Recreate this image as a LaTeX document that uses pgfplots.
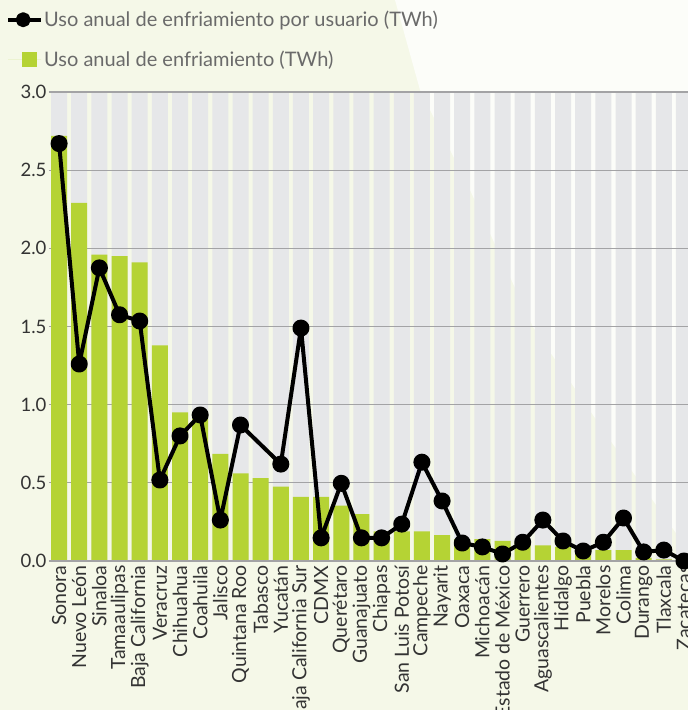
\documentclass[border=0pt]{standalone}
\usepackage{fontspec}
\setmainfont{Lato}
\usepackage{pgfplots}
\pgfplotsset{compat=1.18}
\definecolor{cream}{HTML}{F5F8E8}
\definecolor{whitish}{HTML}{FCFDF9}
\definecolor{barg}{HTML}{B5D334}
\definecolor{bgbar}{HTML}{E6E7E9}
\definecolor{gridc}{HTML}{A3A3A5}
\definecolor{txtd}{HTML}{333333}
\definecolor{txtl}{HTML}{6A6A6A}
\begin{document}
\begin{tikzpicture}[x=1pt,y=1pt]
\fill[cream] (0,0) rectangle (688,710);
\fill[whitish] (395,710) -- (420,620) -- (470,520) -- (533,383) -- (610,270) -- (688,160) -- (688,710) -- cycle;
\begin{axis}[
  anchor=south west, at={(49pt,149pt)},
  scale only axis, width=639pt, height=469pt,
  xmin=-0.5, xmax=31.2, ymin=0, ymax=3.0,
  ytick={0,0.5,1.0,1.5,2.0,2.5,3.0},
  /pgf/number format/fixed, /pgf/number format/fixed zerofill, /pgf/number format/precision=1,
  /pgf/number format/assume math mode=true,
  yticklabel style={font=\fontsize{18.5}{20}\selectfont, text=txtd, xshift=1pt},
  xtick={0,...,31},
  xticklabels={Sonora, Nuevo León, Sinaloa, Tamaaulipas, Baja California, Veracruz, Chihuahua, Coahuila, Jalisco, Quintana Roo, Tabasco, Yucatán, Baja California Sur, CDMX, Querétaro, Guanajuato, Chiapas, San Luis Potosí, Campeche, Nayarit, Oaxaca, Michoacán, Estado de México, Guerrero, Aguascalientes, Hidalgo, Puebla, Morelos, Colima, Durango, Tlaxcala, Zacatecas},
  xticklabel style={rotate=90, anchor=east, font=\fontsize{19.5}{21}\selectfont, text=txtd, xshift=-1pt},
  major tick length=0pt,
  axis line style={draw=none},
  clip=false,
  legend style={at={(axis description cs:0,1)}, anchor=north west, xshift=-43pt, yshift=82pt,
    draw=none, fill=none, inner sep=0pt, row sep=21pt,
    nodes={inner sep=1pt, text=txtl, font=\fontsize{20}{23}\selectfont}},
  legend cell align=left,
  reverse legend,
]
\addplot[ybar, bar width=16pt, bar shift=0pt, fill=bgbar, draw=none, forget plot] coordinates {
(0,3)(1,3)(2,3)(3,3)(4,3)(5,3)(6,3)(7,3)(8,3)(9,3)(10,3)(11,3)(12,3)(13,3)(14,3)(15,3)
(16,3)(17,3)(18,3)(19,3)(20,3)(21,3)(22,3)(23,3)(24,3)(25,3)(26,3)(27,3)(28,3)(29,3)(30,3)(31,3)};
% horizontal grid lines
\addplot[gridc, line width=1.3pt, forget plot] coordinates {(-0.5,0.5)(31.2,0.5)};
\addplot[gridc, line width=1.3pt, forget plot] coordinates {(-0.5,1.0)(31.2,1.0)};
\addplot[gridc, line width=1.3pt, forget plot] coordinates {(-0.5,1.5)(31.2,1.5)};
\addplot[gridc, line width=1.3pt, forget plot] coordinates {(-0.5,2.0)(31.2,2.0)};
\addplot[gridc, line width=1.3pt, forget plot] coordinates {(-0.5,2.5)(31.2,2.5)};
\addplot[gridc, line width=1.3pt, forget plot] coordinates {(-0.5,3.0)(31.2,3.0)};
\addplot[ybar, bar width=16pt, bar shift=0pt, fill=barg, draw=none,
  legend image code/.code={\path (0pt,0pt) -- (33pt,0pt); \fill[barg] (14pt,-7.5pt) rectangle (29pt,7.5pt);}] coordinates {
(0,2.72)(1,2.29)(2,1.96)(3,1.95)(4,1.91)(5,1.38)(6,0.95)(7,0.91)(8,0.685)(9,0.56)(10,0.53)(11,0.475)
(12,0.41)(13,0.41)(14,0.355)(15,0.30)(16,0.19)(17,0.19)(18,0.19)(19,0.165)(20,0.14)(21,0.14)
(22,0.128)(23,0.12)(24,0.10)(25,0.09)(26,0.07)(27,0.07)(28,0.07)(29,0.02)(30,0.01)(31,0.003)};
\addlegendentry{Uso anual de enfriamiento (TWh)}
\addplot[gridc, line width=1.3pt, forget plot] coordinates {(-0.5,0)(31.2,0)};
\addplot[black, line width=4pt, line join=round, mark=*, mark size=6.5pt, mark options={fill=black},
  legend image code/.code={\draw[black, line width=4pt] (0pt,0pt) -- (33pt,0pt); \fill[black] (15pt,0pt) circle (5.5pt);}] coordinates {
(0,2.67)(1,1.26)(2,1.875)(3,1.575)(4,1.535)(5,0.518)(6,0.80)(7,0.934)(8,0.262)(9,0.87)
(11,0.62)(12,1.49)(13,0.148)(14,0.497)(15,0.148)(16,0.148)(17,0.236)(18,0.632)(19,0.384)
(20,0.115)(21,0.09)(22,0.045)(23,0.12)(24,0.262)(25,0.128)(26,0.064)(27,0.12)(28,0.275)
(29,0.058)(30,0.07)(31,0.0)};
\addlegendentry{Uso anual de enfriamiento por usuario (TWh)}
\end{axis}
\pgfresetboundingbox
\path (0,0) rectangle (688,710);
\end{tikzpicture}
\end{document}
